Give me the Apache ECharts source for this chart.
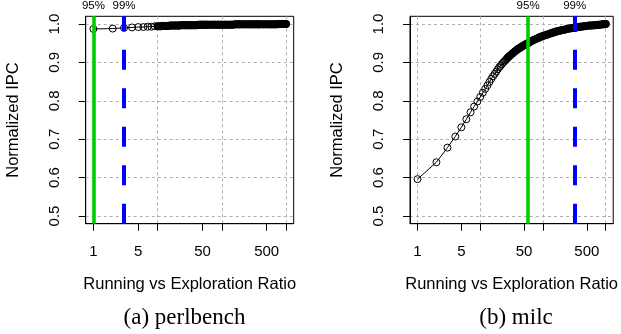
<!DOCTYPE html>
<html><head><meta charset="utf-8">
<script src="https://cdn.jsdelivr.net/npm/echarts@6/dist/echarts.min.js"></script>
<style>html,body{margin:0;padding:0;background:#fff}#c{width:621px;height:334px}</style>
</head><body><div id="c"></div>
<script>
// ---- data ----
const xTickValues = [1, 5, 10, 50, 100, 500, 1000];
const xLabelValues = [1, 5, 50, 500];
const xGridValues = [1, 10, 100, 1000];
const yTickValues = [0.5, 0.6, 0.7, 0.8, 0.9, 1.0];

const ratio = [1,2,3,4,5,6,7,8,9,10,11,12,13,14,15,16,17,18,19,20,21,22,23,24,25,26,27,28,29,30,
  32,34,36,38,40,42,44,46,48,50,52,54,56,58,60,65,70,75,80,85,90,95,100,
  110,120,130,140,150,160,170,180,190,200,220,240,260,280,300,320,340,360,380,400,
  450,500,550,600,650,700,750,800,850,900,950,1000];

const perlbench = [0.987,0.988,0.990,0.991,0.992,0.992,0.993,0.993,0.994,0.994,
  0.994,0.995,0.995,0.995,0.995,0.996,0.996,0.996,0.996,0.996,
  0.996,0.996,0.997,0.997,0.997,0.997,0.997,0.997,0.997,0.997,
  0.997,0.997,0.997,0.997,0.997,0.997,0.998,0.998,0.998,0.998,
  0.998,0.998,0.998,0.998,0.998,
  0.998,0.998,0.998,0.998,0.998,0.998,0.998,0.998,
  0.998,0.998,0.998,0.998,0.998,0.999,0.999,0.999,0.999,0.999,
  0.999,0.999,0.999,0.999,0.999,0.999,0.999,0.999,0.999,0.999,
  0.999,0.999,0.999,0.999,0.999,0.999,1.000,1.000,1.000,1.000,1.000,1.000];

const milc = [0.596,0.640,0.678,0.707,0.731,0.752,0.770,0.785,0.798,0.810,
  0.821,0.831,0.840,0.849,0.857,0.864,0.870,0.876,0.882,0.887,
  0.891,0.895,0.899,0.902,0.905,0.908,0.911,0.914,0.916,0.918,
  0.922,0.926,0.929,0.932,0.935,0.937,0.939,0.941,0.943,0.945,
  0.946,0.948,0.949,0.950,0.952,
  0.955,0.958,0.960,0.962,0.964,0.966,0.967,0.969,
  0.971,0.973,0.975,0.977,0.978,0.980,0.981,0.982,0.983,0.984,
  0.985,0.987,0.988,0.989,0.990,0.990,0.991,0.992,0.992,0.993,
  0.994,0.995,0.996,0.996,0.997,0.997,0.998,0.998,0.999,0.999,1.000,1.000];

// ratio from which the overplotted circles merge into a solid band
const perlbenchSolidFrom = 10;
const milcSolidFrom = 28;

const thresholdNames = ['95%', '99%'];
const perlbenchThresholds = [1, 3];
const milcThresholds = [58, 320];
const captions = ['(a) perlbench', '(b) milc'];

// ---- chart ----
const X_MIN = 0.7586, X_MAX = 1318.3, Y_MIN = 0.48, Y_MAX = 1.02;
const FONT = '"Liberation Sans", Arial, sans-serif';
const gridLeft = [85.7, 410];

function tickAxis(g) {
  return {
    type: 'log', logBase: 10, gridIndex: g, min: X_MIN, max: X_MAX, position: 'bottom',
    axisLine: { show: true, onZero: false, lineStyle: { color: '#000', width: 1 } },
    axisTick: { show: true, length: 7, customValues: xTickValues, lineStyle: { color: '#000', width: 1 } },
    axisLabel: { customValues: xLabelValues, margin: 21, fontSize: 15, color: '#000', fontFamily: FONT,
      formatter: v => String(Math.round(v)) },
    splitLine: { show: false },
    name: 'Running vs Exploration Ratio', nameLocation: 'middle', nameGap: 52,
    nameTextStyle: { fontSize: 16.5, color: '#000', fontFamily: FONT }
  };
}
function gridAxis(g) {
  return {
    type: 'log', logBase: 10, gridIndex: g, min: X_MIN, max: X_MAX, position: 'bottom',
    axisLine: { show: false }, axisLabel: { show: false },
    axisTick: { show: false, customValues: xGridValues },
    splitLine: { show: true, lineStyle: { color: '#b0b0b0', width: 1, type: [3, 3] } }
  };
}
function yAxis(g) {
  return {
    type: 'value', gridIndex: g, min: Y_MIN, max: Y_MAX,
    axisLine: { show: true, lineStyle: { color: '#000', width: 1 } },
    axisTick: { show: true, length: 7, customValues: yTickValues, lineStyle: { color: '#000' } },
    axisLabel: { customValues: yTickValues, rotate: 90, margin: 23.5, fontSize: 15, color: '#000', fontFamily: FONT,
      formatter: v => v.toFixed(1) },
    splitLine: { show: true, lineStyle: { color: '#b0b0b0', width: 1, type: [3, 3] } },
    name: 'Normalized IPC', nameLocation: 'middle', nameGap: 64,
    nameTextStyle: { fontSize: 16.5, color: '#000', fontFamily: FONT }
  };
}
function pointSeries(xi, yi, values) {
  return {
    type: 'line', xAxisIndex: xi, yAxisIndex: yi, z: 3,
    data: ratio.map((r, i) => [r, values[i]]),
    symbol: 'circle', symbolSize: 7, showAllSymbol: true,
    itemStyle: { color: 'rgba(0,0,0,0)', borderColor: '#000', borderWidth: 1 },
    lineStyle: { color: '#000', width: 1 },
    emphasis: { disabled: true }, animation: false
  };
}
function bandSeries(xi, yi, values, from) {
  return {
    type: 'line', xAxisIndex: xi, yAxisIndex: yi, z: 2, silent: true,
    data: ratio.map((r, i) => [r, values[i]]).filter(d => d[0] >= from),
    symbol: 'none',
    lineStyle: { color: '#000', width: 8, cap: 'round', join: 'round' },
    emphasis: { disabled: true }, animation: false
  };
}
function markSeries(xi, yi, thr) {
  const styles = [
    { color: '#00cd00', width: 3.6, type: 'solid' },
    { color: '#0000ff', width: 4, type: [20, 18.5], cap: 'butt' }
  ];
  return {
    type: 'line', xAxisIndex: xi, yAxisIndex: yi, z: 5, data: [], silent: true,
    markLine: {
      silent: true, symbol: 'none', animation: false,
      data: thr.map((t, i) => [
        { coord: [t, Y_MIN], lineStyle: styles[i],
          label: { show: true, position: 'end', formatter: thresholdNames[i], distance: 4,
            fontSize: 11.5, color: '#000', fontFamily: FONT } },
        { coord: [t, Y_MAX] }
      ])
    }
  };
}

const chart = echarts.init(document.getElementById('c'), null, { renderer: 'canvas' });
chart.setOption({
  animation: false,
  backgroundColor: '#fff',
  grid: gridLeft.map(l => ({ left: l, top: 16.3, width: 208, height: 207.4, show: true,
    borderColor: '#000', borderWidth: 1, backgroundColor: 'transparent', containLabel: false })),
  xAxis: [tickAxis(0), gridAxis(0), tickAxis(1), gridAxis(1)],
  yAxis: [yAxis(0), yAxis(1)],
  series: [
    bandSeries(0, 0, perlbench, perlbenchSolidFrom),
    bandSeries(2, 1, milc, milcSolidFrom),
    pointSeries(0, 0, perlbench),
    pointSeries(2, 1, milc),
    markSeries(0, 0, perlbenchThresholds),
    markSeries(2, 1, milcThresholds)
  ],
  graphic: captions.map((c, i) => ({
    type: 'text', x: [184.5, 516][i], y: 318,
    style: { text: c, font: '23px "Liberation Serif", "Times New Roman", serif', fill: '#000',
      align: 'center', verticalAlign: 'middle', textAlign: 'center', textVerticalAlign: 'middle' }
  }))
});
</script>
</body></html>
